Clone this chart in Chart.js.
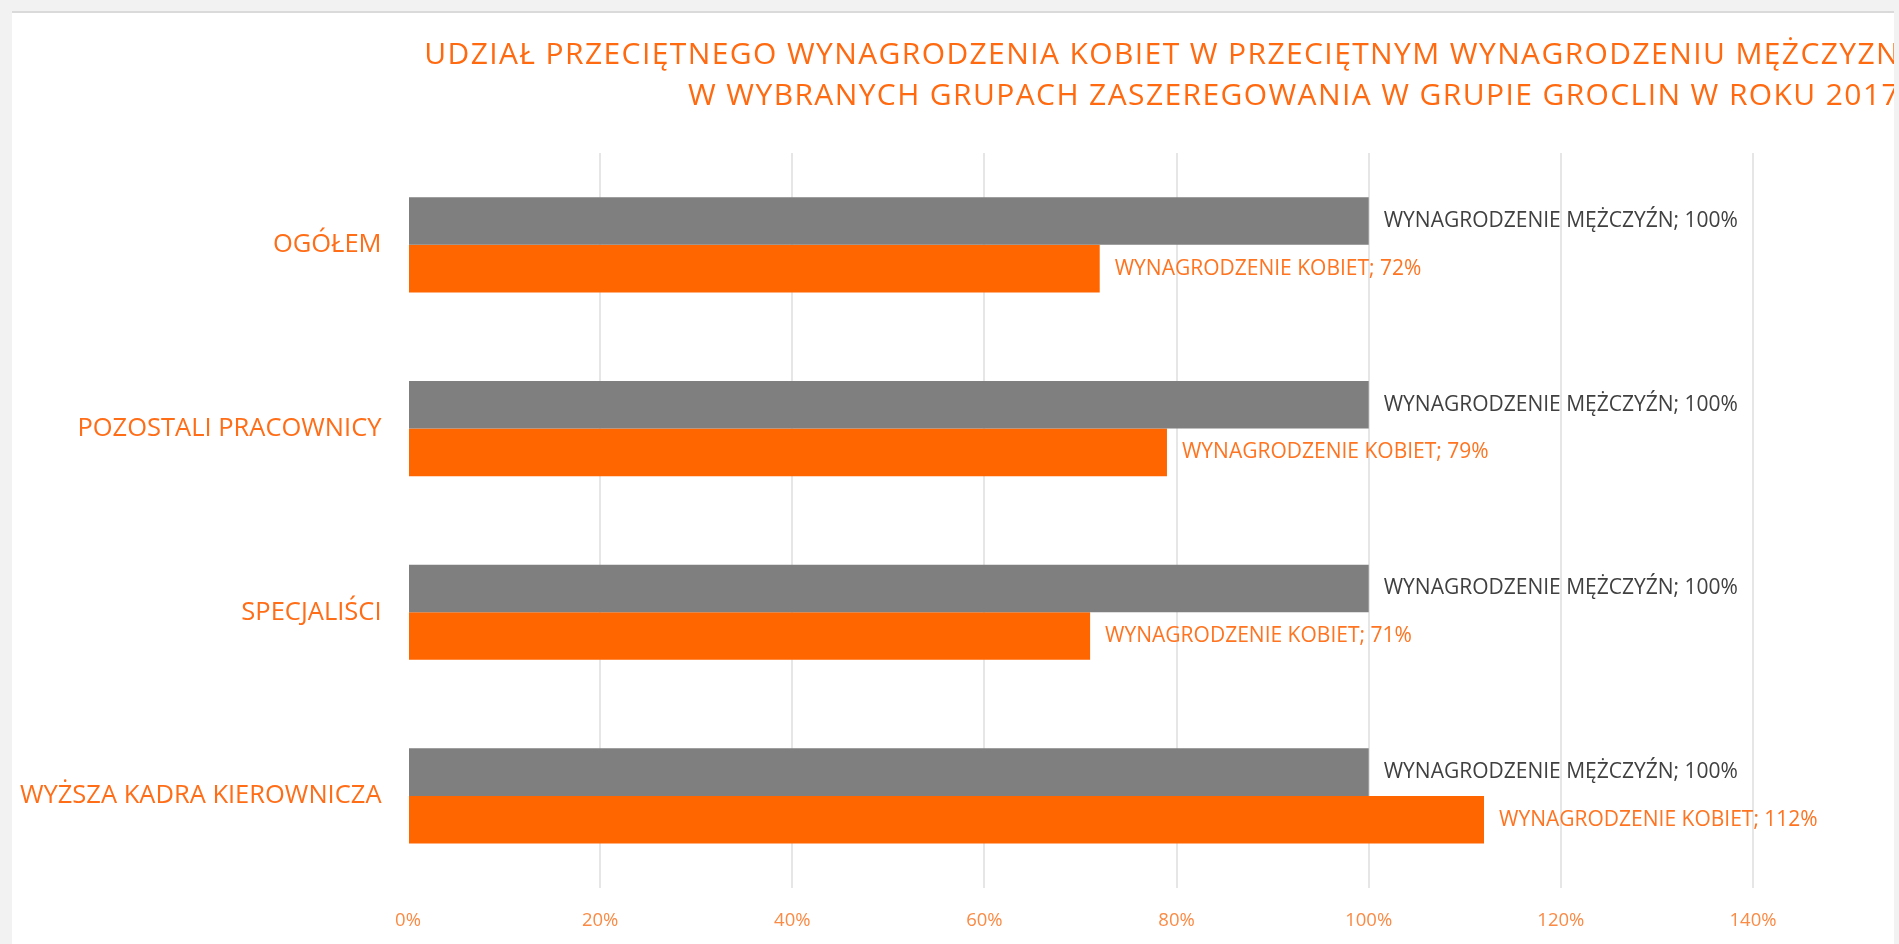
<!DOCTYPE html>
<html>
<head>
<meta charset="utf-8">
<script src="https://cdn.jsdelivr.net/npm/chart.js@4/dist/chart.umd.min.js"></script>
<style>
html, body { margin: 0; padding: 0; background: #f2f2f2; }
#panel {
    position: absolute; left: 12px; top: 11px;
    width: 1882px; height: 931px;
    background: #fff; border-top: 2px solid #dadada;
    overflow: hidden;
}
#wykres { display: block; }
</style>
</head>
<body>
<div id="panel">
    <canvas id="wykres" width="1888" height="940"></canvas>
</div>
<script>
// dane
var kategorie = ['OGÓŁEM', 'POZOSTALI PRACOWNICY', 'SPECJALIŚCI', 'WYŻSZA KADRA KIEROWNICZA'];
var nazwySerii = ['WYNAGRODZENIE MĘŻCZYŹN', 'WYNAGRODZENIE KOBIET'];
var wynagrodzenieMezczyzn = [100, 100, 100, 100];
var wynagrodzenieKobiet = [72, 79, 71, 112];
var tytul = [
    'UDZIAŁ PRZECIĘTNEGO WYNAGRODZENIA KOBIET W PRZECIĘTNYM WYNAGRODZENIU MĘŻCZYZN',
    'W WYBRANYCH GRUPACH ZASZEREGOWANIA W GRUPIE GROCLIN W ROKU 2017'
];
var osX = { min: 0, max: 155.3, krok: 20 };  // os wychodzi poza prawa krawedz

var szary = '#7f7f7f';
var pomarancz = '#ff6600';
var czcionka = '"Open Sans", "Liberation Sans", sans-serif';

// etykiety danych przy koncach slupkow
var etykietyDanych = {
    id: 'etykietyDanych',
    afterDatasetsDraw: function(chart)
    {
        var ctx = chart.ctx;
        ctx.save();
        ctx.font = '21px ' + czcionka;
        ctx.textBaseline = 'middle';
        ctx.textAlign = 'left';
        var kolory = ['#404040', '#ff7420'];
        chart.data.datasets.forEach(function(ds, i) {
            var meta = chart.getDatasetMeta(i);
            meta.data.forEach(function(slupek, j) {
                ctx.fillStyle = kolory[i];
                ctx.fillText(ds.label + '; ' + ds.data[j] + '%', slupek.x + 15, slupek.y);
            });
        });
        ctx.restore();
    }
};

// odstep liter w tytule
var odstepTytulu = {
    id: 'odstepTytulu',
    beforeDraw: function(chart)
    {
        var t = chart.titleBlock;
        if (t && !t._owiniety) {
            var rysuj = t.draw;
            t.draw = function() {
                this.ctx.save();
                this.ctx.letterSpacing = '1.4px';
                rysuj.apply(this, arguments);
                this.ctx.restore();
            };
            t._owiniety = true;
        }
    }
};

var ctx = document.getElementById('wykres').getContext('2d');
var myChart = new Chart(ctx, {
    type: 'bar',
    data: {
        labels: kategorie,
        datasets: [
        {
            label: nazwySerii[0],
            data: wynagrodzenieMezczyzn,
            backgroundColor: szary,
            borderWidth: 0
        },
        {
            label: nazwySerii[1],
            data: wynagrodzenieKobiet,
            backgroundColor: pomarancz,
            borderWidth: 0
        }
        ]
    },
    options: {
        indexAxis: 'y',
        responsive: false,
        animation: false,
        categoryPercentage: 0.518,
        barPercentage: 1.0,
        layout: {
            padding: 0
        },
        plugins: {
            legend: { display: false },
            tooltip: { enabled: false },
            title: {
                display: true,
                text: tytul,
                align: 'end',
                color: '#ff6a10',
                font: { family: czcionka, size: 30, weight: 'normal', lineHeight: 41 / 30 },
                padding: { top: 22, bottom: 36 }
            }
        },
        scales: {
            x: {
                min: osX.min,
                max: osX.max,
                bounds: 'data',
                border: { display: false },
                grid: {
                    drawTicks: false,
                    lineWidth: 2,
                    color: function(c) {
                        if (!c.tick || c.tick.value === 0 || c.tick.value % osX.krok !== 0) return 'rgba(0,0,0,0)';
                        return '#e6e6e6';
                    }
                },
                ticks: {
                    stepSize: osX.krok,
                    includeBounds: false,
                    padding: 21.5,
                    color: '#fb8a44',
                    font: { family: czcionka, size: 18.5 },
                    callback: function(v) {
                        return v % osX.krok === 0 ? v + '%' : '';
                    }
                }
            },
            y: {
                border: { display: false },
                grid: { display: false, drawTicks: false },
                afterFit: function(scale) { scale.width = 396; },
                ticks: {
                    padding: 26.5,
                    color: '#ff6d17',
                    font: { family: czcionka, size: 25.5 }
                }
            }
        }
    },
    plugins: [etykietyDanych, odstepTytulu]
});
</script>
</body>
</html>
